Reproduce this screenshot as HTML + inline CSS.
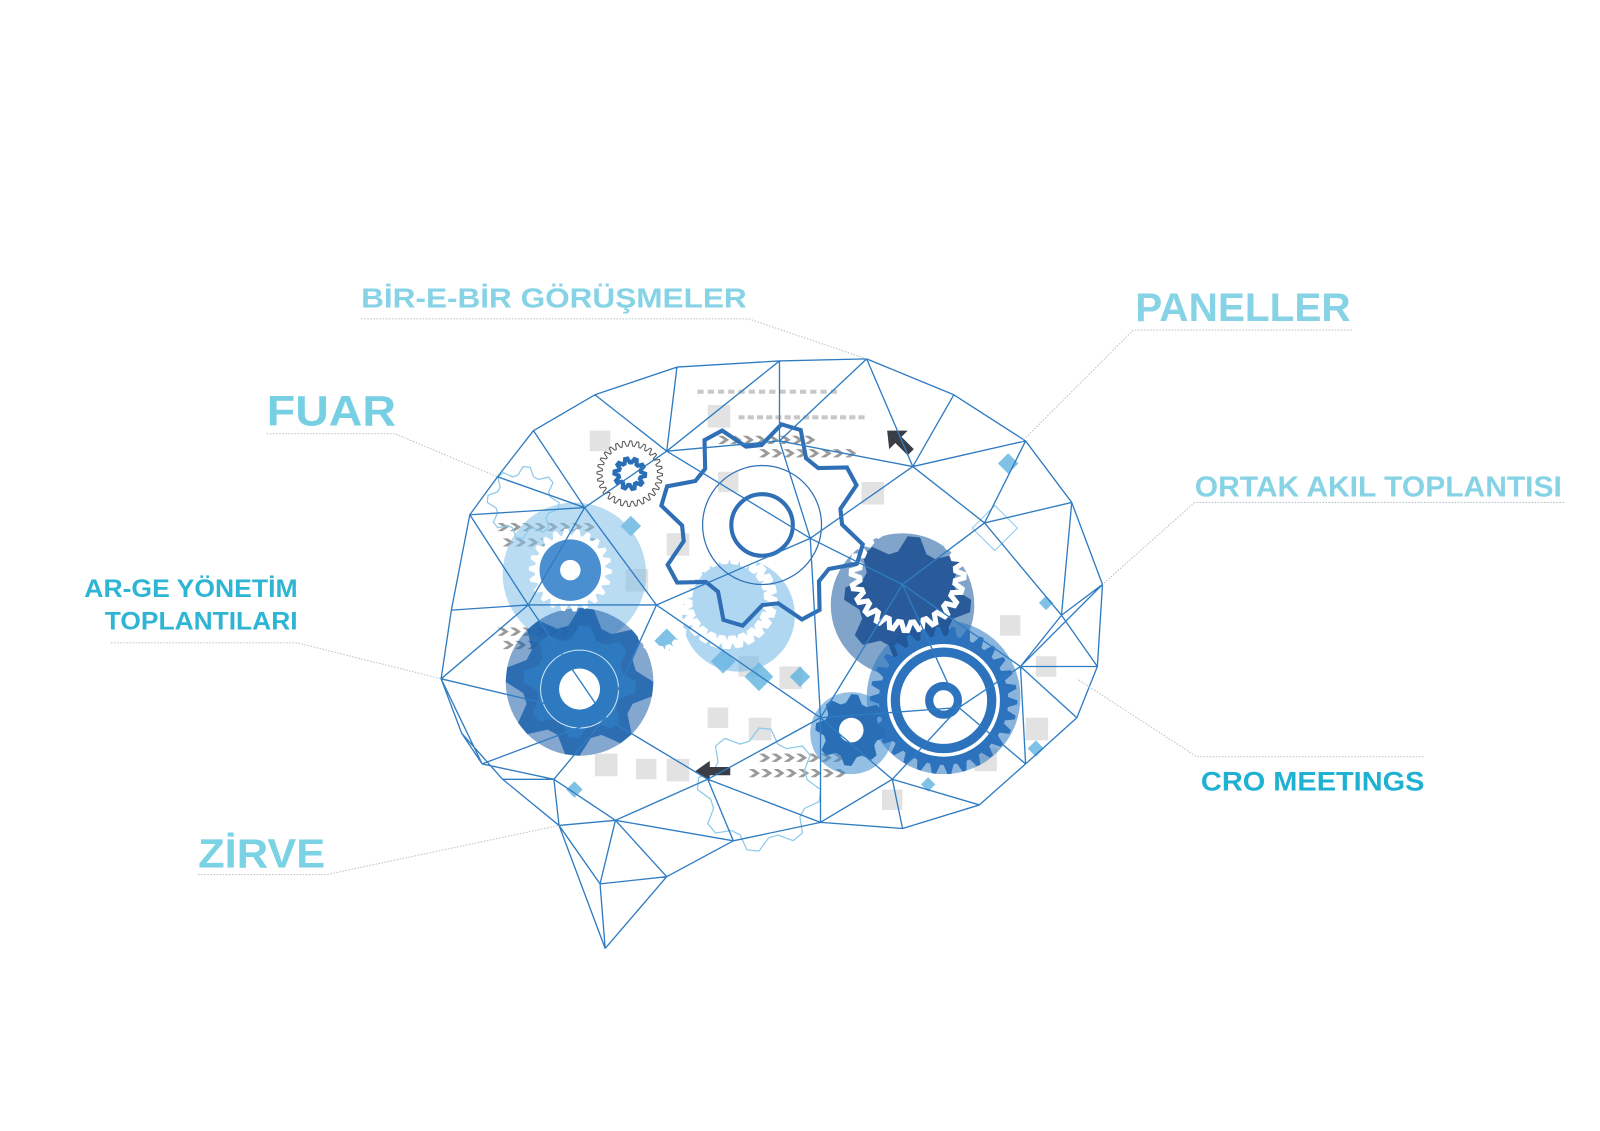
<!DOCTYPE html>
<html><head><meta charset="utf-8"><style>
html,body{margin:0;padding:0;background:#fff;width:1600px;height:1131px;overflow:hidden}
svg{display:block}
.t{font-family:"Liberation Sans",sans-serif;font-weight:bold}
</style></head><body>
<svg id="s" width="1600" height="1131" viewBox="0 0 1560 1103" xmlns="http://www.w3.org/2000/svg">
<g id="bg"></g>
<g id="mesh" fill="none" stroke="#2f7cc2" stroke-width="1.3" stroke-linejoin="round"></g>
<g fill="none" stroke="#b8c2c8" stroke-width="1" stroke-dasharray="1.5 1.5">
<polyline points="352,311 730,311 845,350"/>
<polyline points="1318,322 1105,322 995,432"/>
<polyline points="260,423 385,423 485,465"/>
<polyline points="1525,490 1165,490 1075,570"/>
<polyline points="108,627 290,627 430,662"/>
<polyline points="1388,738 1167,738 1050,662"/>
<polyline points="193,853 318,853 545,805"/>
</g>
<g class="t">
<text x="352" y="300" font-size="27" fill="#86d3e6" textLength="376" lengthAdjust="spacingAndGlyphs">BİR-E-BİR GÖRÜŞMELER</text>
<text x="1107" y="313" font-size="39" fill="#86d3e6" textLength="210" lengthAdjust="spacingAndGlyphs">PANELLER</text>
<text x="260" y="415" font-size="42" fill="#76cfe3" textLength="126" lengthAdjust="spacingAndGlyphs">FUAR</text>
<text x="1165" y="484" font-size="28" fill="#86d3e6" textLength="358" lengthAdjust="spacingAndGlyphs">ORTAK AKIL TOPLANTISI</text>
<text x="82" y="582" font-size="24" fill="#2db5d3" textLength="208" lengthAdjust="spacingAndGlyphs">AR-GE YÖNETİM</text>
<text x="102" y="614" font-size="24" fill="#2db5d3" textLength="188" lengthAdjust="spacingAndGlyphs">TOPLANTILARI</text>
<text x="1171" y="771" font-size="26" fill="#1fb1d2" textLength="218" lengthAdjust="spacingAndGlyphs">CRO MEETINGS</text>
<text x="193" y="846" font-size="40" fill="#7ad2e5" textLength="124" lengthAdjust="spacingAndGlyphs">ZİRVE</text>
</g>
</svg>
<script>
var NS="http://www.w3.org/2000/svg";
function el(p,t,a){var e=document.createElementNS(NS,t);for(var k in a)e.setAttribute(k,a[k]);p.appendChild(e);return e;}
var bg=document.getElementById('bg'),mesh=document.getElementById('mesh');
function gear(cx,cy,r,n,td,a){var d="",N=n*4;for(var i=0;i<N;i++){var ang=(i/N)*Math.PI*2+(a.rot||0);var rr=(i%4<2)?r:r-td;d+=(i?"L":"M")+(cx+rr*Math.cos(ang)).toFixed(1)+","+(cy+rr*Math.sin(ang)).toFixed(1);}d+="Z";var p={d:d};for(var k in a)if(k!='rot')p[k]=a[k];return el(bg,'path',p);}
// grey squares
var sq=[[690,395,22],[575,420,20],[700,460,20],[650,520,22],[610,555,22],[540,560,20],[720,640,20],[760,650,22],[690,690,20],[730,700,22],[580,735,22],[620,740,20],[650,740,22],[860,700,22],[860,770,20],[950,730,22],[1010,640,20],[975,600,20],[840,470,22],[1000,700,22]];
sq.forEach(function(s){el(bg,'rect',{x:s[0],y:s[1],width:s[2],height:s[2],fill:'#e2e2e2'});});
for(var i=0;i<14;i++){el(bg,'rect',{x:680+i*10,y:380,width:6,height:4,fill:'#c8c8c8'});el(bg,'rect',{x:720+i*9,y:405,width:6,height:4,fill:'#c8c8c8'});}
// chevrons grey
[[485,510],[490,525],[485,612],[490,625],[700,425],[740,438],[740,735],[730,750]].forEach(function(c){for(var i=0;i<8;i++)el(bg,'path',{d:'M'+(c[0]+i*12)+','+c[1]+'l6,4l-6,4h5l6,-4l-6,-4z',fill:'#9a9a9a'});});
// light diamonds
[[983,452,10],[1020,588,7],[650,625,12],[705,645,12],[740,660,14],[780,660,10],[560,770,8],[905,765,7],[615,513,10],[1010,730,8],[970,515,22]].forEach(function(d){el(bg,'path',{d:'M'+d[0]+','+(d[1]-d[2])+'l'+d[2]+','+d[2]+'l-'+d[2]+','+d[2]+'l-'+d[2]+',-'+d[2]+'z',fill:d[2]>20?'none':'#5fb3e0',stroke:d[2]>20?'#8cc9ea':'none','fill-opacity':0.8});});
// blue blobs
[[560,560,70,'#7fc0ea'],[565,665,72,'#1d5fa8'],[880,590,70,'#1a5aa0'],[920,680,75,'#2c77c0'],[720,600,55,'#6fb6e6'],[830,715,40,'#3b8ad0']].forEach(function(b){el(bg,'circle',{cx:b[0],cy:b[1],r:b[2],fill:b[3],opacity:0.55});});
gear(565,665,72,8,16,{fill:'#1f63ad',opacity:0.85});
gear(565,665,55,8,12,{fill:'#2e7dc4',opacity:0.8});
el(bg,'circle',{cx:565,cy:672,r:20,fill:'#fff'});
el(bg,'circle',{cx:565,cy:672,r:38,fill:'none',stroke:'#cfe6f7','stroke-width':1});
gear(885,585,62,8,14,{fill:'#1a4f92',opacity:0.85});
gear(885,560,55,24,8,{fill:'none',stroke:'#fff','stroke-width':5});
gear(920,683,72,30,9,{fill:'#2c72bd'});
el(bg,'circle',{cx:920,cy:683,r:55,fill:'#fff'});
el(bg,'circle',{cx:920,cy:683,r:47,fill:'none',stroke:'#2c72bd','stroke-width':9});
el(bg,'circle',{cx:920,cy:683,r:14,fill:'none',stroke:'#2c72bd','stroke-width':8});
gear(830,712,35,8,8,{fill:'#2a6fb6'});el(bg,'circle',{cx:830,cy:712,r:12,fill:'#fff'});
gear(556,556,40,22,6,{fill:'#fff',stroke:'#fff'});el(bg,'circle',{cx:556,cy:556,r:30,fill:'#4a8fd0'});el(bg,'circle',{cx:556,cy:556,r:10,fill:'#fff'});
gear(710,585,45,24,7,{fill:'none',stroke:'#fff','stroke-width':6});
gear(645,615,22,14,5,{fill:'none',stroke:'#fff','stroke-width':4});
gear(614,462,32,28,5,{fill:'none',stroke:'#555','stroke-width':1});
gear(614,462,15,10,4,{fill:'none',stroke:'#2a6fb6','stroke-width':4});
gear(510,490,35,8,8,{fill:'none',stroke:'#8cc9ea','stroke-width':1.2});
gear(740,770,60,8,12,{fill:'none',stroke:'#8cc9ea','stroke-width':1.2});
gear(743,512,100,8,22,{fill:'none',stroke:'#2f6fb6','stroke-width':4,rot:0.19});
el(bg,'circle',{cx:743,cy:512,r:30,fill:'none',stroke:'#2f6fb6','stroke-width':4});
el(bg,'circle',{cx:743,cy:512,r:58,fill:'none',stroke:'#2f6fb6','stroke-width':1.2});
el(bg,'path',{d:'M865,420l20,0l-6,6l12,12l-6,6l-12,-12l-6,6z',fill:'#3a3d45'});
el(bg,'path',{d:'M678,752l14,-10v6h20v8h-20v6z',fill:'#3a3d45'});
// mesh
var P={O1:[845,350],O2:[930,385],O3:[1000,430],O4:[1045,490],O5:[1075,570],O6:[1070,650],O7:[1050,700],O8:[1000,745],O9:[955,785],O10:[880,808],O11:[800,802],O12:[715,820],O13:[650,855],O14:[590,925],O15:[545,805],O16:[490,760],O17:[450,715],O18:[430,662],O19:[440,595],O20:[458,502],O21:[485,465],O22:[520,420],O23:[580,385],O24:[660,358],O25:[760,352],
I1:[650,440],I2:[760,430],I3:[890,455],I4:[960,510],I5:[570,495],I6:[790,525],I7:[1035,600],I8:[515,590],I9:[640,590],I10:[880,570],I11:[995,650],I12:[590,700],I13:[800,700],I14:[935,690],I15:[470,745],I16:[540,760],I17:[690,760],I18:[870,760],I19:[600,800],I20:[585,862]};
var outer=['O1','O2','O3','O4','O5','O6','O7','O8','O9','O10','O11','O12','O13','I20','O15','O16','O17','O18','O19','O20','O21','O22','O23','O24','O25','O1'];
var E=[['O24','I1'],['O23','I1'],['O25','I1'],['O25','I2'],['O1','I2'],['O1','I3'],['O2','I3'],['O3','I3'],['O3','I4'],['O4','I4'],['O22','I5'],['O21','I5'],['O20','I5'],['I1','I5'],['I1','I2'],['I2','I3'],['I3','I4'],['I2','I6'],['I1','I6'],['I3','I6'],['I4','I10'],['I4','I7'],['O4','I7'],['O5','I7'],['O6','I7'],['I7','I11'],['O6','I11'],['O7','I11'],['O8','I11'],['I10','I11'],['I6','I10'],['I5','I8'],['O20','I8'],['O19','I8'],['O18','I8'],['I8','I9'],['I5','I9'],['I6','I9'],['I9','I12'],['O18','I12'],['I8','I12'],['I9','I13'],['I6','I13'],['I10','I13'],['I13','I14'],['I11','I14'],['I10','I14'],['O8','I14'],['I14','I18'],['O9','I18'],['O10','I18'],['I13','I18'],['I13','O11'],['I18','O11'],['I13','I17'],['I12','I17'],['I17','O11'],['I17','O12'],['I17','I19'],['I12','I16'],['I16','I19'],['O18','I15'],['O17','I15'],['I15','I12'],['I15','I16'],['O16','I16'],['O15','I16'],['I19','O15'],['I19','O13'],['I19','O12'],['O15','O14'],['I20','O14'],['O13','O14'],['I19','I20'],['O5','I11']];
var d='M'+outer.map(function(k){return P[k].join(',');}).join('L');
E.forEach(function(e){d+='M'+P[e[0]].join(',')+'L'+P[e[1]].join(',');});
el(mesh,'path',{d:d});
</script>
</body></html>
